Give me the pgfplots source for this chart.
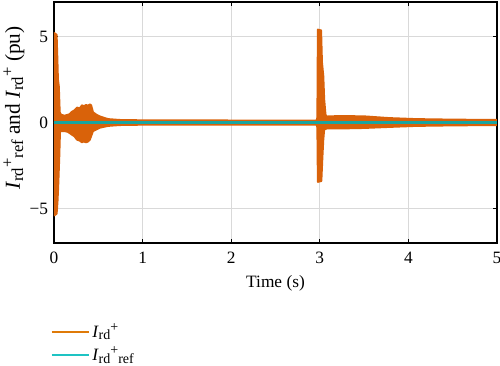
\documentclass[border=0pt]{standalone}
\usepackage{pgfplots}
\pgfplotsset{compat=1.18}
\usepackage{fontspec}
\setmainfont{Liberation Serif}
\definecolor{cOr}{RGB}{217,98,10}
\definecolor{cCy}{RGB}{25,165,160}
\definecolor{cCyL}{RGB}{30,195,195}
\newcommand{\sbs}[1]{\raisebox{-0.35ex}{\fontsize{10.5}{11}\selectfont #1}}
\newcommand{\sps}[1]{\raisebox{0.75ex}{\fontsize{10.5}{11}\selectfont #1}}
\newcommand{\Ird}{\textit{I}\sbs{rd}\sps{+}}
\newcommand{\Irdref}{\textit{I}\sbs{rd}\sps{+}\sbs{ref}}
\newcommand{\sbl}[1]{\raisebox{-0.35ex}{\fontsize{12.5}{13}\selectfont #1}}
\newcommand{\spl}[1]{\raisebox{0.7ex}{\fontsize{12.5}{13}\selectfont #1}}
\begin{document}
\fontsize{13}{15}\selectfont
\begin{tikzpicture}
\useasboundingbox (-40.5pt,-91.5pt) rectangle (334.5pt,182.25pt);
\begin{axis}[
  scale only axis,
  width=332.25pt, height=180.75pt,
  xmin=0, xmax=5, ymin=-7, ymax=7,
  xtick={0,1,2,3,4,5}, ytick={-5,0,5},
  yticklabels={−5,0,5},
  /pgf/number format/assume math mode=true,
  tick label style={font=\fontsize{13}{15}\selectfont},
  label style={font=\fontsize{13}{15}\selectfont},
  xticklabel style={yshift=-2pt},
  tick align=inside, tick pos=both,
  major tick length=3pt,
  every tick/.style={black, line width=0.8pt},
  axis line style={black, line width=0.8pt},
  grid=major,
  major grid style={gray!30, line width=0.5pt},
  xlabel={Time (s)},
  ylabel={\textit{I}\sbl{rd}\spl{+}\sbl{ref} and \textit{I}\sbl{rd}\spl{+} (pu)},
  xlabel style={yshift=0pt},
  ylabel style={at={(ticklabel cs:0.56)}, yshift=-5pt, font=\fontsize{16}{18}\selectfont},
  legend cell align=left,
  legend style={at={(0,0)}, anchor=north west, xshift=-5.5pt, yshift=-56pt, draw=none, fill=none,
    font=\fontsize{13}{15}\selectfont, row sep=1pt},
  legend image code/.code={\draw[#1] (0pt,0pt) -- (22.5pt,0pt); \path (0pt,0pt) -- (27.5pt,0pt);},
]
\addplot[forget plot, draw=cOr, fill=cOr, line width=1.4pt, line join=round] coordinates {
(0,0) (0.002,5.2) (0.03,5.1) (0.038,3.8) (0.045,2.5) (0.055,2.1) (0.065,0.6)
(0.08,0.45) (0.12,0.4) (0.158,0.45) (0.18,0.5) (0.2,0.62) (0.23,0.7) (0.26,0.87) (0.29,0.82) (0.315,1.0)
(0.34,0.95) (0.36,1.02) (0.385,0.98) (0.405,1.05) (0.42,1.0) (0.44,0.6) (0.48,0.45) (0.52,0.35) (0.61,0.2)
(0.74,0.15) (1.0,0.13) (2.0,0.12) (2.965,0.12) (2.972,0.3) (2.978,5.4) (3.015,5.35) (3.025,3.5)
(3.04,2.7) (3.05,1.35) (3.065,0.45) (3.08,0.35) (3.22,0.38) (3.5,0.36) (3.78,0.26) (4.09,0.2)
(4.5,0.17) (5,0.15)
(5,-0.15) (4.5,-0.17) (4.09,-0.2) (3.78,-0.26) (3.5,-0.32) (3.22,-0.35) (3.08,-0.35)
(3.05,-0.4) (3.04,-1.0) (3.03,-2.0) (3.018,-3.4) (2.978,-3.45) (2.972,-0.3) (2.965,-0.12)
(2.0,-0.12) (1.0,-0.13) (0.74,-0.15) (0.61,-0.2) (0.52,-0.3) (0.48,-0.4) (0.44,-0.5) (0.405,-1.0)
(0.38,-1.12) (0.36,-1.15) (0.335,-1.1) (0.315,-1.15) (0.29,-1.05) (0.26,-1.0) (0.23,-0.8) (0.2,-0.7) (0.158,-0.55)
(0.12,-0.5) (0.08,-0.5) (0.068,-0.55) (0.06,-2.0) (0.048,-3.7) (0.04,-4.6) (0.03,-5.3)
(0.003,-5.4) (0,0)
} -- cycle;
\addlegendimage{color=cOr!85!yellow, line width=1.5pt}
\addlegendentry{\Ird}
\addplot[cCy, line width=2pt, forget plot] coordinates {(0,0) (5,0)};
\addlegendimage{color=cCyL, line width=1.5pt}
\addlegendentry{\Irdref}
\end{axis}
\end{tikzpicture}
\end{document}
